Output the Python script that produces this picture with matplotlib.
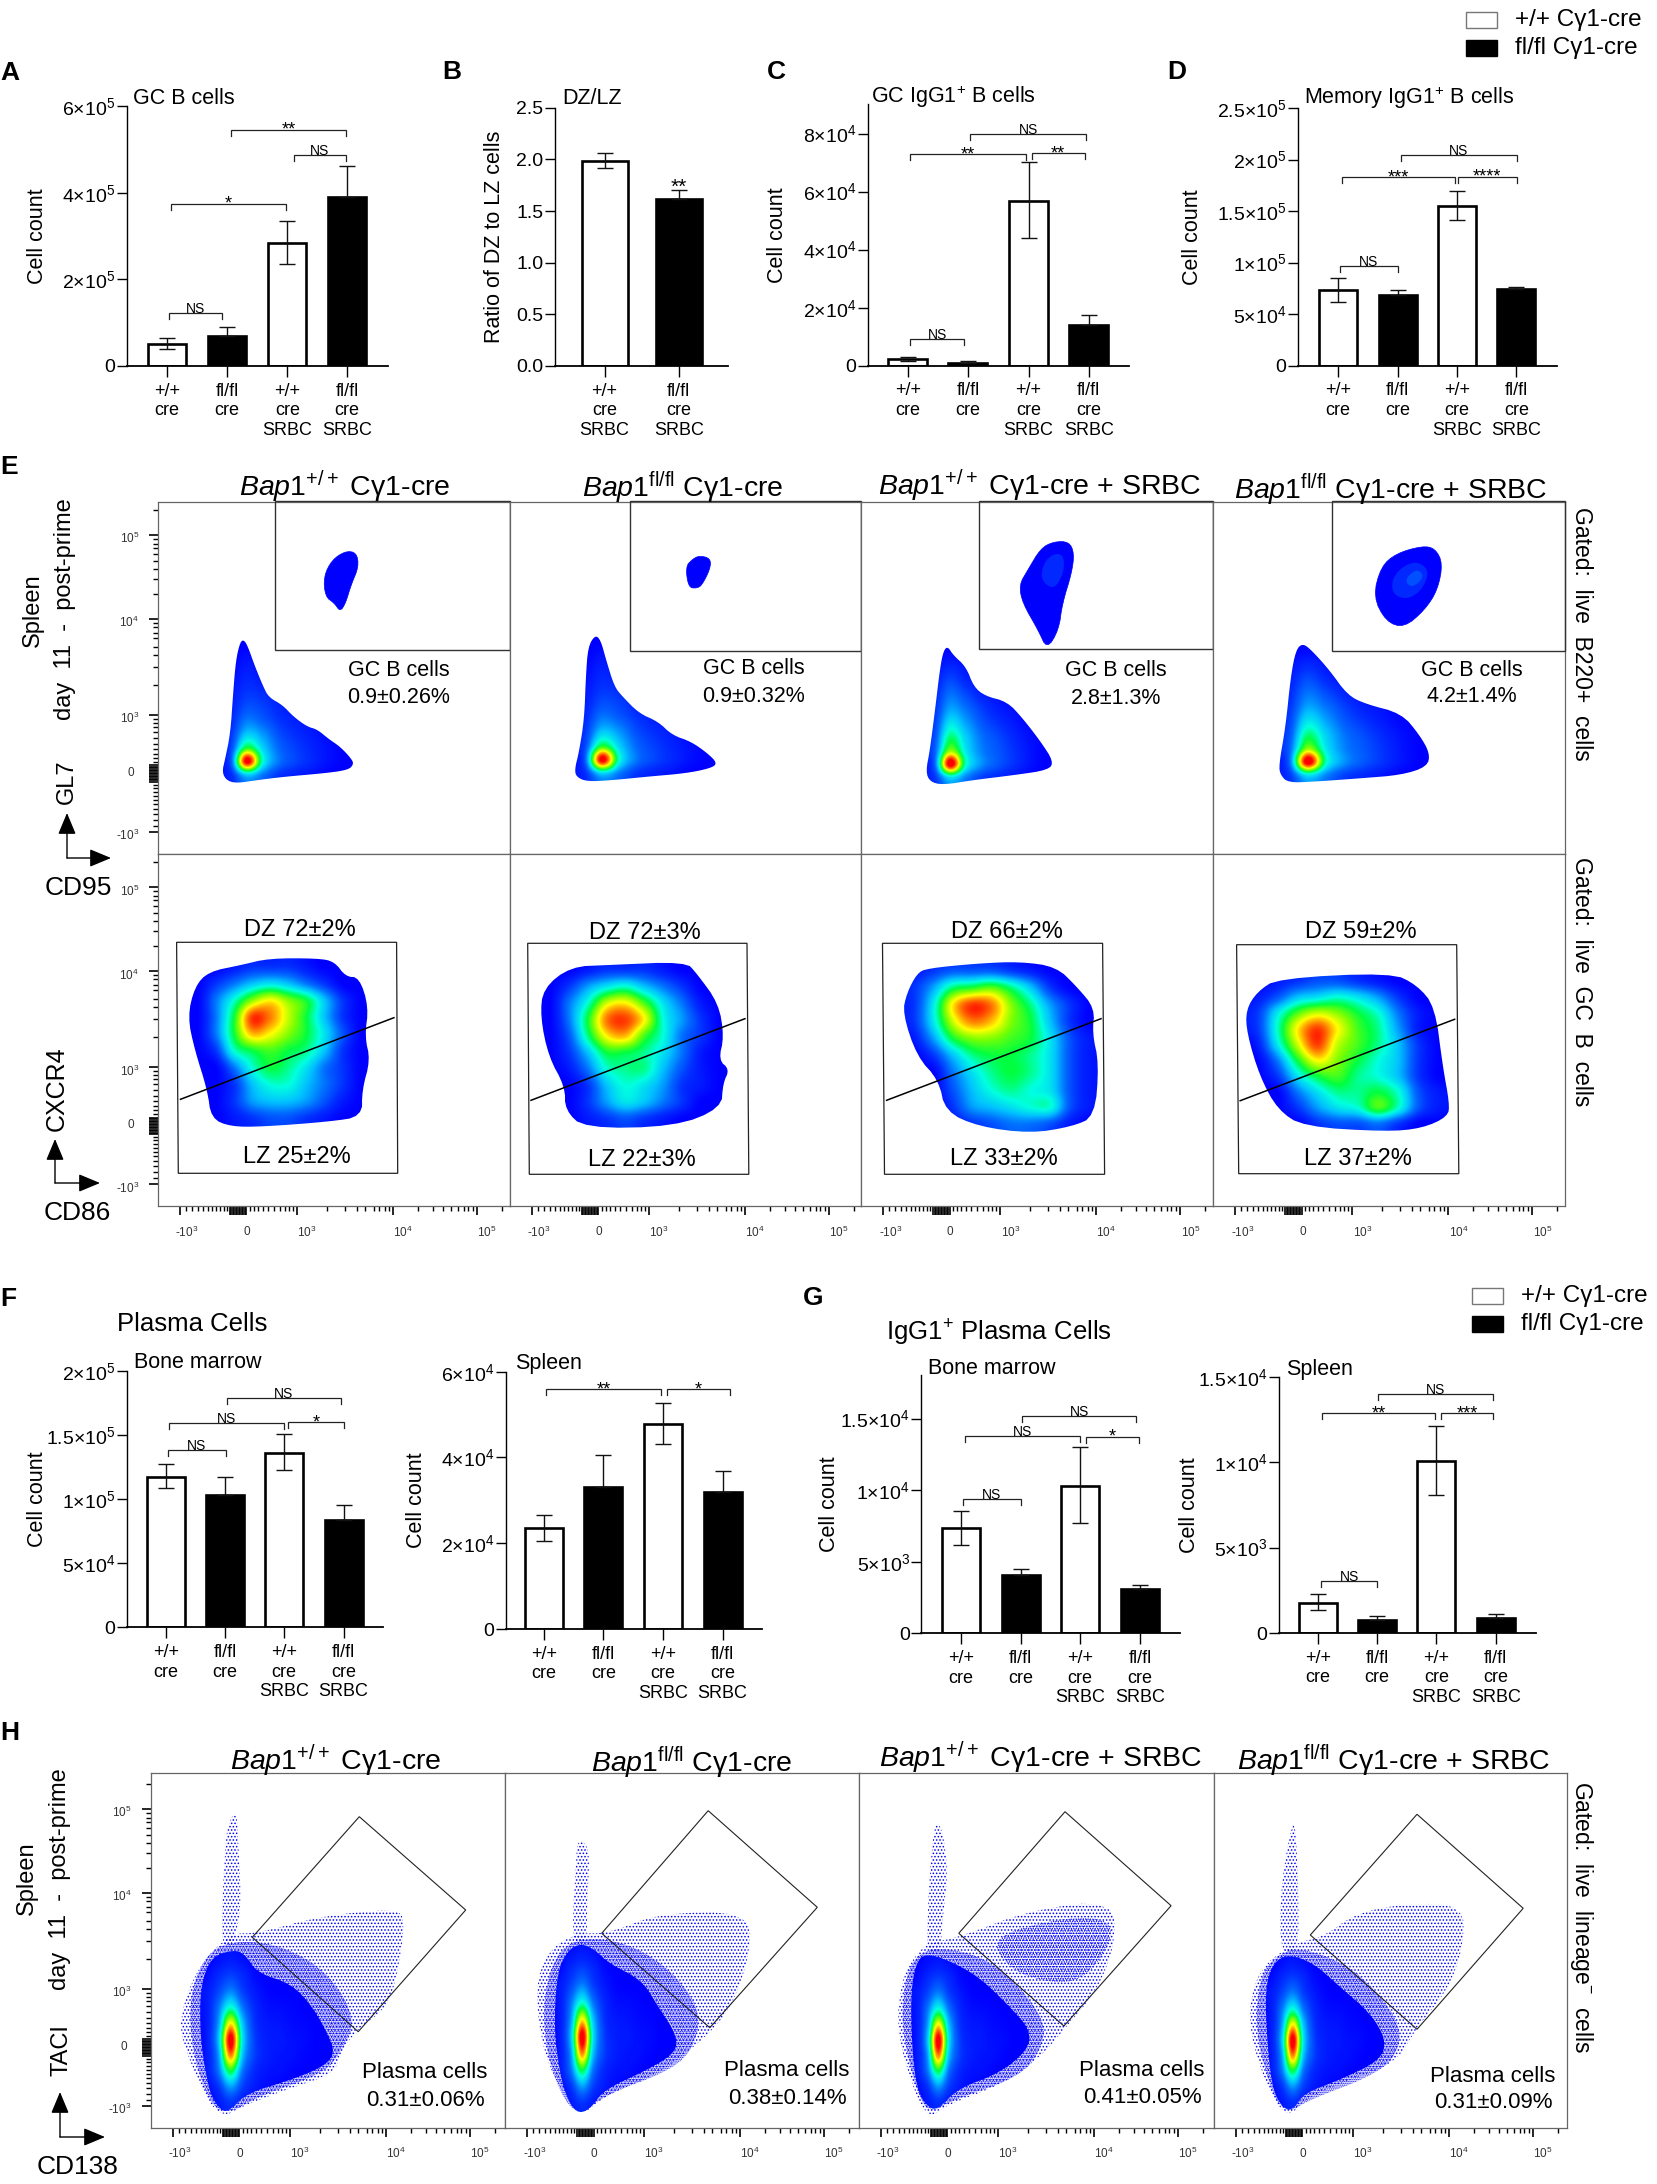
#!/usr/bin/env python3

import matplotlib
matplotlib.use('Agg')
import matplotlib.pyplot as plt
from matplotlib.colors import LinearSegmentedColormap
from matplotlib.patches import Polygon, Rectangle

plt.rcParams['font.family'] = ['Liberation Sans', 'DejaVu Sans']
plt.rcParams['mathtext.fontset'] = 'custom'
plt.rcParams['mathtext.rm'] = 'Liberation Sans'
plt.rcParams['mathtext.it'] = 'Liberation Sans:italic'
plt.rcParams['mathtext.bf'] = 'Liberation Sans:bold'
plt.rcParams['mathtext.default'] = 'regular'
plt.rcParams['hatch.linewidth'] = 0.7

W, H = 1658, 2184

# ---- bar data
X4 = ['+/+\ncre', 'fl/fl\ncre', '+/+\ncre\nSRBC', 'fl/fl\ncre\nSRBC']
X2 = ['+/+\ncre\nSRBC', 'fl/fl\ncre\nSRBC']

A_MEAN = [5.08e4, 7.0e4, 2.85e5, 3.91e5]
A_UP = [6.4e4, 9.1e4, 3.35e5, 4.62e5]
A_LOW = [3.9e4, 7.0e4, 2.35e5, 3.91e5]
A_TICKS = [0, 2e5, 4e5, 6e5]
A_LABELS = ['0', '2×10$^{5}$', '4×10$^{5}$', '6×10$^{5}$']
A_BRACKETS = [(0.04, 0.92, 1.23e5, 'NS'), (0.06, 1.98, 3.75e5, '*'),
              (2.11, 2.99, 4.87e5, 'NS'), (1.07, 2.99, 5.45e5, '**')]

B_MEAN = [1.987, 1.616]
B_UP = [2.065, 1.70]
B_LOW = [1.92, 1.616]
B_TICKS = [0, 0.5, 1, 1.5, 2, 2.5]
B_LABELS = ['0.0', '0.5', '1.0', '1.5', '2.0', '2.5']

C_MEAN = [2.2e3, 1.0e3, 5.68e4, 1.39e4]
C_UP = [3.0e3, 1.7e3, 7.02e4, 1.74e4]
C_LOW = [1.5e3, 1.0e3, 4.39e4, 1.39e4]
C_TICKS = [0, 2e4, 4e4, 6e4, 8e4]
C_LABELS = ['0', '2×10$^{4}$', '4×10$^{4}$', '6×10$^{4}$', '8×10$^{4}$']
C_BRACKETS = [(0.04, 0.93, 9.2e3, 'NS'), (0.04, 1.97, 7.28e4, '**'),
              (2.06, 2.95, 7.32e4, '**'), (1.04, 2.96, 8.0e4, 'NS')]

D_MEAN = [7.32e4, 6.9e4, 1.548e5, 7.42e4]
D_UP = [8.55e4, 7.35e4, 1.694e5, 7.68e4]
D_LOW = [6.2e4, 6.9e4, 1.415e5, 7.42e4]
D_TICKS = [0, 5e4, 1e5, 1.5e5, 2e5, 2.5e5]
D_LABELS = ['0', '5×10$^{4}$', '1×10$^{5}$', '1.5×10$^{5}$', '2×10$^{5}$', '2.5×10$^{5}$']
D_BRACKETS = [(0.04, 1.0, 9.65e4, 'NS'), (0.06, 1.96, 1.826e5, '***'),
              (2.01, 3.0, 1.833e5, '****'), (1.05, 3.0, 2.043e5, 'NS')]

F1_MEAN = [1.171e5, 1.034e5, 1.361e5, 8.39e4]
F1_UP = [1.273e5, 1.174e5, 1.509e5, 9.53e4]
F1_LOW = [1.083e5, 1.034e5, 1.223e5, 8.39e4]
F1_TICKS = [0, 5e4, 1e5, 1.5e5, 2e5]
F1_LABELS = ['0', '5×10$^{4}$', '1×10$^{5}$', '1.5×10$^{5}$', '2×10$^{5}$']
F1_BRACKETS = [(0.04, 1.01, 1.382e5, 'NS'), (0.05, 2.0, 1.595e5, 'NS'),
               (2.07, 3.02, 1.60e5, '*'), (1.04, 2.96, 1.787e5, 'NS')]

F2_MEAN = [2.347e4, 3.30e4, 4.79e4, 3.19e4]
F2_UP = [2.65e4, 4.05e4, 5.27e4, 3.68e4]
F2_LOW = [2.06e4, 3.30e4, 4.32e4, 3.19e4]
F2_TICKS = [0, 2e4, 4e4, 6e4]
F2_LABELS = ['0', '2×10$^{4}$', '4×10$^{4}$', '6×10$^{4}$']
F2_BRACKETS = [(0.04, 1.96, 5.59e4, '**'), (2.07, 3.13, 5.59e4, '*')]

G1_MEAN = [7.36e3, 4.08e3, 1.027e4, 3.12e3]
G1_UP = [8.57e3, 4.52e3, 1.30e4, 3.35e3]
G1_LOW = [6.2e3, 4.08e3, 7.69e3, 3.12e3]
G1_TICKS = [0, 5e3, 1e4, 1.5e4]
G1_LABELS = ['0', '5×10$^{3}$', '1×10$^{4}$', '1.5×10$^{4}$']
G1_BRACKETS = [(0.03, 1.0, 9.41e3, 'NS'), (0.07, 1.99, 1.379e4, 'NS'),
               (2.10, 2.98, 1.374e4, '*'), (1.02, 2.94, 1.521e4, 'NS')]

G2_MEAN = [1.77e3, 780, 1.007e4, 896]
G2_UP = [2.28e3, 993, 1.214e4, 1.09e3]
G2_LOW = [1.32e3, 780, 8.08e3, 896]
G2_TICKS = [0, 5e3, 1e4, 1.5e4]
G2_LABELS = ['0', '5×10$^{3}$', '1×10$^{4}$', '1.5×10$^{4}$']
G2_BRACKETS = [(0.06, 1.0, 3.02e3, 'NS'), (0.07, 1.98, 1.286e4, '**'),
               (2.08, 2.96, 1.286e4, '***'), (1.01, 2.96, 1.399e4, 'NS')]

COL_TITLES = [r'$\mathit{Bap1}^{+/+}$ Cγ1-cre', r'$\mathit{Bap1}^{fl/fl}$ Cγ1-cre',
              r'$\mathit{Bap1}^{+/+}$ Cγ1-cre + SRBC', r'$\mathit{Bap1}^{fl/fl}$ Cγ1-cre + SRBC']
GC_VALUES = ['0.9±0.26%', '0.9±0.32%', '2.8±1.3%', '4.2±1.4%']
DZ_VALUES = ['DZ 72±2%', 'DZ 72±3%', 'DZ 66±2%', 'DZ 59±2%']
LZ_VALUES = ['LZ 25±2%', 'LZ 22±3%', 'LZ 33±2%', 'LZ 37±2%']
PC_VALUES = ['0.31±0.06%', '0.38±0.14%', '0.41±0.05%', '0.31±0.09%']

CROP_E1_L = (0, 460, 1.823)
CROP_E1_R = (850, 460, 1.94)
CROP_E2_L = (0, 860, 1.823)
CROP_E2_R = (850, 860, 1.94)
CROP_H_L = (0, 1720, 1.823)
CROP_H_R = (850, 1730, 1.94)

TRI_1 = [(445, 540), (452, 560), (465, 620), (480, 680), (490, 712), (515, 735), (535, 770), (560, 800), (578, 808),
         (600, 838), (620, 860), (640, 895), (645, 912), (635, 930), (590, 940), (520, 950), (470, 960), (430, 970),
         (412, 960), (405, 935), (410, 900), (420, 820), (425, 700), (430, 600), (438, 545)]
TRI_2 = [(1085, 525), (1095, 540), (1105, 600), (1120, 680), (1135, 710), (1165, 760), (1200, 785), (1225, 825),
         (1260, 845), (1290, 880), (1308, 910), (1295, 925), (1250, 940), (1180, 950), (1120, 960), (1070, 965),
         (1050, 950), (1048, 925), (1055, 880), (1065, 780), (1068, 650), (1072, 560)]
TRI_3 = [(190, 560), (200, 585), (225, 620), (240, 680), (262, 708), (305, 725), (335, 775), (370, 845), (395, 905),
         (385, 930), (320, 945), (240, 960), (180, 975), (155, 965), (147, 935), (155, 870), (165, 750), (175, 620),
         (182, 570)]
TRI_4 = [(878, 550), (895, 570), (930, 630), (965, 705), (1000, 732), (1070, 760), (1105, 825), (1125, 880),
         (1120, 920), (1070, 945), (990, 955), (900, 965), (850, 968), (835, 945), (832, 915), (845, 800), (855, 650),
         (865, 570)]

TRI_PLAIN = [[0, 0, 0, 0, 0, 0, 0, 0],
             [0, 0.4, 0.2, 0, 0, 0, 0, 0],
             [0.2, 0.7, 0.4, 0.1, 0, 0, 0, 0],
             [0.4, 1, 0.8, 0.4, 0.1, 0, 0, 0],
             [0.6, 1.4, 1.2, 0.7, 0.3, 0.1, 0, 0],
             [0.8, 2, 1.6, 1, 0.6, 0.3, 0, 0],
             [1, 3, 2.4, 1.4, 0.9, 0.5, 0.1, 0],
             [1.2, 5, 3.2, 1.8, 1.2, 0.7, 0.3, 0],
             [1.4, 9.2, 4, 2, 1.3, 0.8, 0.3, 0],
             [0.8, 3, 2, 1, 0.6, 0.3, 0, 0]]
TRI_SRBC = [[0, 0.2, 0, 0, 0, 0, 0, 0],
            [0.3, 0.8, 0.4, 0, 0, 0, 0, 0],
            [0.6, 1.4, 0.8, 0.3, 0, 0, 0, 0],
            [0.8, 2, 1.4, 0.7, 0.3, 0, 0, 0],
            [1, 2.6, 2, 1.2, 0.6, 0.3, 0, 0],
            [1.2, 3.5, 2.6, 1.6, 1, 0.5, 0.1, 0],
            [1.4, 4.6, 3.2, 2, 1.4, 0.8, 0.3, 0],
            [1.6, 6, 3.6, 2.2, 1.6, 1, 0.4, 0],
            [1.6, 9.4, 4.2, 2.4, 1.6, 1, 0.4, 0],
            [1, 3.4, 2.2, 1.2, 0.8, 0.4, 0, 0]]

GC_1 = [(630, 273), (650, 278), (654, 320), (640, 375), (630, 430), (620, 455), (610, 430), (593, 410), (590, 350),
        (605, 300)]
GC_2 = [(1275, 287), (1295, 295), (1295, 325), (1280, 375), (1270, 385), (1255, 382), (1250, 320), (1262, 298)]
GC_3 = [(395, 245), (425, 245), (435, 280), (430, 340), (412, 430), (405, 510), (382, 568), (365, 510), (335, 430),
        (328, 375), (345, 330), (370, 265)]
GC_4 = [(1110, 258), (1135, 265), (1150, 310), (1140, 390), (1115, 450), (1075, 503), (1040, 485), (1015, 410),
        (1030, 320), (1060, 280)]
GC_3_INNER = [(395, 280), (415, 285), (415, 340), (395, 390), (370, 360), (375, 310)]
GC_4_INNER = [(1095, 300), (1125, 330), (1110, 390), (1080, 420), (1050, 400), (1055, 340)]
GC_4_CORE = [(1100, 325), (1115, 350), (1090, 385), (1075, 360)]

CX_1 = [(490, 295), (580, 295), (610, 305), (630, 350), (655, 352), (672, 440), (665, 530), (675, 600), (660, 690),
        (660, 770), (600, 785), (480, 800), (420, 800), (385, 775), (378, 690), (355, 570), (342, 470), (355, 380),
        (380, 335), (440, 315)]
CX_2 = [(1110, 315), (1250, 305), (1270, 340), (1310, 430), (1320, 530), (1310, 600), (1330, 628), (1318, 670),
        (1315, 745), (1230, 800), (1065, 805), (1030, 750), (1030, 680), (1000, 590), (985, 470), (990, 385),
        (1040, 320)]
CX_3 = [(150, 325), (250, 310), (330, 305), (400, 320), (440, 380), (475, 445), (470, 520), (483, 610), (475, 770),
        (430, 800), (350, 820), (250, 800), (185, 755), (172, 660), (130, 590), (102, 460), (110, 400), (130, 340)]
CX_4 = [(830, 355), (1050, 338), (1100, 375), (1135, 440), (1150, 620), (1163, 730), (1160, 770), (1110, 805),
        (1040, 815), (880, 800), (830, 750), (795, 650), (770, 520), (768, 450), (790, 395)]

CX_DENS_1 = [[0, 0, 0.5, 1, 1, 1, 0.5, 0, 0, 0],
             [0, 1, 2, 3, 3.5, 3, 2, 1, 0, 0],
             [0, 2, 4, 6, 7, 6, 5, 3, 1, 0],
             [0, 2, 5, 8.5, 8, 6.5, 5, 3, 1, 0],
             [0, 2, 5, 7.5, 7, 6, 5, 3.5, 1.5, 0],
             [0, 1, 4, 5, 5.5, 5, 4.5, 3, 1, 0],
             [0, 0, 2, 4, 5, 4.5, 3.5, 2, 1, 0],
             [0, 0, 1, 3, 4, 4, 3, 2, 1, 0],
             [0, 0, 1, 2.5, 3, 3, 2.5, 1.5, 0.5, 0],
             [0, 0, 0.5, 1, 1.5, 1.5, 1, 0.5, 0, 0]]
CX_DENS_2 = [[0, 0, 0.5, 1, 1, 1, 0.5, 0, 0, 0],
             [0, 1, 2.5, 3.5, 4, 3, 2, 1, 0, 0],
             [0, 2, 4, 6.5, 7, 5.5, 3.5, 2, 0.5, 0],
             [0, 2, 5, 8, 8.5, 7, 4, 2.5, 1, 0],
             [0, 1.5, 4.5, 7, 7.5, 5.5, 4, 2, 1, 0],
             [0, 1, 3, 5, 5, 4.5, 3.5, 2, 0.5, 0],
             [0, 0.5, 2, 4, 4.5, 4.5, 3, 1.5, 0.5, 0],
             [0, 0, 1, 3, 4, 3.5, 2.5, 1, 0.5, 0],
             [0, 0, 1, 2.5, 3.5, 3, 2, 1, 0, 0],
             [0, 0, 0.5, 1, 1.5, 1, 0.5, 0, 0, 0]]
CX_DENS_3 = [[0.5, 1, 1.5, 1.5, 1.5, 1, 0.5, 0, 0, 0],
             [1, 2.5, 4.5, 5, 5.5, 4.5, 3, 1, 0, 0],
             [1, 3.5, 7, 8.5, 8, 6, 4.5, 2.5, 1, 0],
             [1, 3.5, 6.5, 8, 7.5, 6, 5, 3, 1, 0],
             [0.5, 2.5, 5, 6, 6, 5.5, 5, 3.5, 1.5, 0.5],
             [0, 1, 3, 4.5, 5, 5, 4.5, 3.5, 1.5, 0.5],
             [0, 0, 2, 3.5, 4.5, 5, 4.5, 3.5, 1.5, 0.5],
             [0, 0, 1.5, 3, 4, 4.5, 4, 3.5, 1.5, 0.5],
             [0, 0, 1, 2.5, 3, 3.5, 4, 4, 1.5, 0.5],
             [0, 0, 0.5, 1, 1.5, 2, 2, 1.5, 0.5, 0]]
CX_DENS_4 = [[0, 0.5, 1, 1.5, 1.5, 1, 0.5, 0, 0, 0],
             [0.5, 1.5, 3, 3.5, 4, 3.5, 2.5, 1, 0, 0],
             [1, 3.5, 5.5, 6.5, 6, 5, 4, 2, 0.5, 0],
             [1, 4, 7, 8.5, 7, 5.5, 4.5, 2.5, 0.5, 0],
             [0.5, 3.5, 6.5, 8.5, 6.5, 5.5, 4.5, 3, 1, 0],
             [0, 2, 5, 7, 6, 5, 4, 3, 1, 0],
             [0, 1, 3.5, 5, 5.5, 4.5, 4, 3, 1, 0],
             [0, 0, 2, 3.5, 4.5, 4.5, 5, 4, 1.5, 0.5],
             [0, 0, 1, 2.5, 3.5, 4, 5.5, 4, 1.5, 0.5],
             [0, 0, 0, 1, 1.5, 1.5, 2, 1, 0, 0]]

PC_MAIN_1 = [(425, 690), (445, 700), (470, 760), (530, 790), (570, 860), (600, 950), (610, 1000), (590, 1040),
             (530, 1080), (450, 1120), (420, 1170), (405, 1175), (385, 1130), (375, 1060), (365, 950), (365, 800),
             (385, 710)]
PC_NEAR_1 = [(440, 660), (520, 680), (600, 760), (650, 900), (620, 1000), (590, 1060), (470, 1130), (420, 1180),
             (385, 1160), (350, 1000), (345, 820), (380, 690)]
PC_CLOUD_1 = [(420, 640), (470, 640), (580, 590), (720, 565), (740, 600), (720, 800), (700, 870), (650, 930),
              (620, 1000), (610, 1060), (520, 1110), (440, 1160), (410, 1190), (380, 1150), (340, 1000), (325, 900),
              (360, 740)]
PC_PLUME_1 = [(415, 310), (432, 270), (435, 400), (440, 560), (425, 680), (405, 680), (405, 560), (410, 400)]
PC_MAIN_2 = [(1060, 670), (1085, 690), (1110, 730), (1170, 780), (1200, 860), (1235, 950), (1230, 1000), (1180, 1050),
             (1100, 1110), (1075, 1170), (1050, 1180), (1030, 1120), (1020, 1050), (1010, 930), (1015, 760),
             (1035, 690)]
PC_NEAR_2 = [(1080, 650), (1160, 680), (1230, 760), (1280, 880), (1260, 1000), (1210, 1060), (1110, 1120), (1060, 1180),
             (1030, 1150), (995, 1000), (990, 820), (1020, 680)]
PC_CLOUD_2 = [(1050, 640), (1110, 640), (1200, 580), (1360, 575), (1370, 680), (1340, 840), (1300, 930), (1250, 1000),
              (1200, 1060), (1100, 1130), (1060, 1190), (1030, 1130), (990, 1000), (975, 800), (1000, 690)]
PC_PLUME_2 = [(1052, 365), (1065, 365), (1075, 400), (1070, 560), (1070, 670), (1045, 670), (1045, 560), (1050, 440)]
PC_MAIN_3 = [(150, 672), (190, 690), (250, 740), (310, 830), (350, 900), (345, 960), (290, 1030), (210, 1075),
             (170, 1140), (150, 1130), (130, 1080), (120, 950), (118, 780), (130, 690)]
PC_NEAR_3 = [(170, 650), (260, 680), (330, 770), (380, 880), (370, 960), (330, 1040), (200, 1110), (155, 1150),
             (130, 1090), (100, 900), (105, 760), (125, 680)]
PC_CLOUD_3 = [(150, 640), (215, 620), (350, 540), (510, 510), (515, 640), (480, 780), (420, 890), (370, 980),
              (300, 1060), (180, 1130), (155, 1165), (125, 1090), (90, 900), (100, 750), (125, 680)]
PC_DENSE_3 = [(270, 620), (420, 560), (510, 570), (500, 660), (450, 750), (390, 760), (310, 720)]
PC_PLUME_3 = [(165, 270), (180, 300), (190, 430), (180, 560), (175, 670), (150, 670), (150, 580), (155, 420)]
PC_MAIN_4 = [(850, 672), (900, 700), (950, 770), (1010, 850), (1040, 930), (1030, 990), (950, 1050), (880, 1090),
             (860, 1140), (840, 1135), (820, 1080), (810, 950), (805, 780), (820, 700)]
PC_NEAR_4 = [(870, 650), (960, 700), (1020, 780), (1070, 890), (1060, 980), (1010, 1040), (890, 1110), (850, 1150),
             (820, 1100), (785, 900), (795, 740), (825, 680)]
PC_CLOUD_4 = [(860, 640), (920, 620), (980, 550), (1080, 520), (1190, 525), (1190, 650), (1160, 780), (1100, 890),
              (1060, 1000), (950, 1060), (880, 1110), (850, 1165), (810, 1080), (770, 880), (790, 720)]
PC_PLUME_4 = [(860, 270), (865, 310), (870, 480), (870, 670), (835, 670), (835, 500), (845, 380)]

PC_DENS = [[0, 0.3, 0.5, 0.3, 0, 0, 0, 0, 0, 0, 0],
           [0.2, 0.8, 1.2, 0.8, 0.2, 0, 0, 0, 0, 0, 0],
           [0.5, 1.3, 2.2, 1.2, 0.5, 0.1, 0, 0, 0, 0, 0],
           [0.5, 2, 4, 2, 0.8, 0.3, 0.2, 0.1, 0, 0, 0],
           [0.5, 2.5, 7, 3, 1, 0.5, 0.4, 0.2, 0.1, 0, 0],
           [0.5, 3, 9.3, 3.5, 1.2, 0.6, 0.5, 0.3, 0.2, 0, 0],
           [0.5, 2.5, 8, 3, 1.2, 0.6, 0.4, 0.3, 0.1, 0, 0],
           [0.5, 2, 5, 2, 0.8, 0.4, 0.3, 0.1, 0, 0, 0],
           [0.2, 1, 2.5, 1.2, 0.5, 0.2, 0, 0, 0, 0, 0],
           [0, 0.5, 1, 0.5, 0.1, 0, 0, 0, 0, 0, 0]]

# axis tick places on the flow plots, px from the low end of the frame
FLOW_MAJOR = [22, 81, 139, 235, 319]
FLOW_DENSE = [72, 73.5, 75, 76.5, 78, 79.5, 82.5, 84, 85.5, 87, 88.5]
FLOW_MINOR = [28, 34, 40, 45, 50, 54, 58, 62, 66, 69, 92, 96, 100, 105, 110, 116, 122, 127, 131, 135,
              169, 187, 199, 207, 216, 221, 227, 231, 260, 275, 285, 293, 300, 306, 310, 315, 344]
FLOW_NAMES = ['-10$^{3}$', '0', '10$^{3}$', '10$^{4}$', '10$^{5}$']

DENS_CMAP = LinearSegmentedColormap.from_list(
    'flow', ['#0000ff', '#0030ff', '#0070ff', '#00c0ff', '#00ffe0', '#00ff40', '#80ff00', '#ffff00', '#ff8000',
             '#ff0000'])

fig = plt.figure(figsize=(W / 100, H / 100), dpi=100)


def px_axes(left, top, right, bottom, **kw):
    return fig.add_axes([left / W, 1 - bottom / H, (right - left) / W, (bottom - top) / H], **kw)


def crop(pts, where):
    x0, y0, sx = where
    return [(x0 + x / sx, y0 + y / 3) for x, y in pts]


def rounded(pts, rounds=2):
    # corner cutting, the outlines were read as few points
    for _ in range(rounds):
        out = []
        for i in range(len(pts)):
            a, b = pts[i], pts[(i + 1) % len(pts)]
            out.append((0.75 * a[0] + 0.25 * b[0], 0.75 * a[1] + 0.25 * b[1]))
            out.append((0.25 * a[0] + 0.75 * b[0], 0.25 * a[1] + 0.75 * b[1]))
        pts = out
    return pts


def bracket(ax, x0, x1, y, label, dv):
    ax.plot([x0, x0, x1, x1], [y - dv, y, y, y - dv], color='#222222', lw=0.9, solid_joinstyle='miter')
    if label == 'NS':
        ax.annotate(label, ((x0 + x1) / 2, y), xytext=(0, 0), textcoords='offset pixels', ha='center', va='baseline',
                    fontsize=10)
    else:
        ax.annotate(label, ((x0 + x1) / 2, y), xytext=(0, -5), textcoords='offset pixels', ha='center', va='baseline',
                    fontsize=13)


def bar_panel(yx, right, y0, ytop, centers, width, means, up, low, ymax, ticks, labels, xlabels, brackets=()):
    ax = px_axes(yx, ytop, right, y0)
    step = centers[1] - centers[0]
    xs = [(c - centers[0]) / step for c in centers]
    colors = ['white' if i % 2 == 0 else 'black' for i in range(len(means))]
    ax.bar(xs, means, width / step, color=colors, edgecolor='black', lw=1.9, zorder=2)
    yerr = [[m - l for m, l in zip(means, low)], [u - m for m, u in zip(means, up)]]
    ax.errorbar(xs, means, yerr=yerr, fmt='none', ecolor='#111111', elinewidth=1, capsize=6, capthick=1, zorder=3)
    ax.set_xlim((yx - centers[0]) / step, (right - centers[0]) / step)
    ax.set_ylim(0, ymax)
    ax.spines['top'].set_visible(False)
    ax.spines['right'].set_visible(False)
    ax.spines['left'].set_linewidth(1)
    ax.spines['bottom'].set_linewidth(1.3)
    ax.set_xticks(xs)
    ax.set_xticklabels(xlabels, fontsize=13, linespacing=1.2)
    ax.set_yticks(ticks)
    ax.set_yticklabels(labels, fontsize=14)
    ax.tick_params(axis='x', length=8, width=1, pad=4)
    ax.tick_params(axis='y', length=7.5, width=1, pad=1)
    ax.patch.set_alpha(0)
    dv = 6 / (y0 - ytop) * ymax
    for b in brackets:
        bracket(ax, b[0], b[1], b[2], b[3], dv)
    return ax


def flow_axes(left, top, right, bottom, yticks=False, xticks=True):
    ax = px_axes(left, top, right, bottom)
    ax.set_xlim(left, right)
    ax.set_ylim(bottom, top)
    for s in ax.spines.values():
        s.set_color('#666666')
        s.set_linewidth(0.9)
    ax.set_xticks([])
    ax.set_yticks([])
    if xticks:
        ax.set_xticks([left + t for t in FLOW_MAJOR + FLOW_DENSE])
        ax.set_xticks([left + t for t in FLOW_MINOR], minor=True)
        ax.set_xticklabels([])
        for t, name, dx in zip(FLOW_MAJOR, FLOW_NAMES, [7, 8, 10, 10, 10]):
            ax.text(left + t + dx, bottom + 26, name, ha='center', va='center', fontsize=8.5, color='#333333',
                    clip_on=False)
    if yticks:
        ax.set_yticks([bottom - t for t in FLOW_MAJOR + FLOW_DENSE])
        ax.set_yticks([bottom - t for t in FLOW_MINOR], minor=True)
        ax.set_yticklabels([])
        for t, name, dy, xoff in zip(FLOW_MAJOR, FLOW_NAMES, [4, 0, 4, 4, 4], [19, 24, 19, 19, 19]):
            ax.text(left - xoff, bottom - t + dy, name, ha='right', va='center', fontsize=8.5, color='#333333',
                    clip_on=False)
    ax.tick_params(which='major', length=6.5, width=1.2, color='black', pad=1)
    ax.tick_params(which='minor', length=3.5, width=1, color='black')
    return ax


def density(ax, outline, matrix, zorder=2):
    xs = [p[0] for p in outline]
    ys = [p[1] for p in outline]
    xlim, ylim = ax.get_xlim(), ax.get_ylim()
    im = ax.imshow(matrix, extent=(min(xs), max(xs), max(ys), min(ys)), cmap=DENS_CMAP, vmin=0, vmax=9,
                   interpolation='catrom', interpolation_stage='data', aspect='auto', zorder=zorder)
    patch = Polygon(rounded(outline), closed=True, transform=ax.transData)
    im.set_clip_path(patch)
    ax.set_xlim(xlim)
    ax.set_ylim(ylim)
    return im


def speckle(ax, outline, hatch, zorder=1):
    ax.add_patch(Polygon(rounded(outline), closed=True, fc='none', ec='#0000ff', lw=0, hatch=hatch, zorder=zorder))


# ---- bar panels
bar_panel(127, 388, 366, 106, [167, 227, 287.5, 347], 38, A_MEAN, A_UP, A_LOW, 6e5, A_TICKS, A_LABELS, X4, A_BRACKETS)
ax_b = bar_panel(555, 728, 366, 107.7, [604.6, 678.7], 46, B_MEAN, B_UP, B_LOW, 2.5, B_TICKS, B_LABELS, X2)
ax_b.annotate('**', (1, 1.72), xytext=(0, -5), textcoords='offset pixels', ha='center', va='baseline', fontsize=15)
bar_panel(868, 1129, 365.7, 104, [908, 968, 1028.5, 1088.7], 39, C_MEAN, C_UP, C_LOW, 9.02e4, C_TICKS, C_LABELS, X4,
          C_BRACKETS)
bar_panel(1298, 1556.5, 365.7, 108, [1338, 1397.6, 1456.7, 1516.4], 38, D_MEAN, D_UP, D_LOW, 2.5e5, D_TICKS, D_LABELS,
          X4, D_BRACKETS)
bar_panel(127, 383, 1627.3, 1370.7, [166, 225, 284, 343.6], 38, F1_MEAN, F1_UP, F1_LOW, 2e5, F1_TICKS, F1_LABELS, X4,
          F1_BRACKETS)
bar_panel(505.6, 762, 1629, 1371.7, [544, 603.5, 662.8, 722.6], 38, F2_MEAN, F2_UP, F2_LOW, 6e4, F2_TICKS, F2_LABELS,
          X4, F2_BRACKETS)
bar_panel(921.5, 1180, 1633.3, 1375, [961, 1020.6, 1080, 1140], 38, G1_MEAN, G1_UP, G1_LOW, 1.805e4, G1_TICKS,
          G1_LABELS, X4, G1_BRACKETS)
bar_panel(1279, 1535.6, 1633, 1376.7, [1317.8, 1377, 1436.5, 1495.7], 38, G2_MEAN, G2_UP, G2_LOW, 1.5e4, G2_TICKS,
          G2_LABELS, X4, G2_BRACKETS)

# ---- flow rows
E_EDGES = [158, 509.6, 861.3, 1213.4, 1565.5]
H_EDGES = [150.8, 505.2, 858.8, 1214, 1567.5]

# GL7 / CD95 row
gl7_outlines = [crop(TRI_1, CROP_E1_L), crop(TRI_2, CROP_E1_L), crop(TRI_3, CROP_E1_R), crop(TRI_4, CROP_E1_R)]
gl7_dens = [TRI_PLAIN, TRI_PLAIN, TRI_SRBC, TRI_SRBC]
gc_blobs = [crop(GC_1, CROP_E1_L), crop(GC_2, CROP_E1_L), crop(GC_3, CROP_E1_R), crop(GC_4, CROP_E1_R)]
gate_left = [275, 629.7, 978.9, 1332]
gate_low = [650, 650.7, 649, 650.7]
for i in range(4):
    ax = flow_axes(E_EDGES[i], 502, E_EDGES[i + 1], 853.7, yticks=(i == 0), xticks=False)
    density(ax, gl7_outlines[i], gl7_dens[i])
    ax.add_patch(Polygon(rounded(gc_blobs[i]), closed=True, fc='#0000ff', ec='#0000ff', lw=0.5, zorder=2))
    ax.add_patch(Rectangle((gate_left[i], 501), E_EDGES[i + 1] - gate_left[i], gate_low[i] - 501, fc='none',
                           ec='#333333', lw=1, clip_on=False, zorder=4))
    if i == 2:
        ax.add_patch(Polygon(rounded(crop(GC_3_INNER, CROP_E1_R)), closed=True, fc='#0028ff', ec='none', zorder=3))
    if i == 3:
        ax.add_patch(Polygon(rounded(crop(GC_4_INNER, CROP_E1_R)), closed=True, fc='#0028ff', ec='none', zorder=3))
        ax.add_patch(Polygon(rounded(crop(GC_4_CORE, CROP_E1_R)), closed=True, fc='#0050ff', ec='none', zorder=3))

# CXCR4 / CD86 row
cx_outlines = [crop(CX_1, CROP_E2_L), crop(CX_2, CROP_E2_L), crop(CX_3, CROP_E2_R), crop(CX_4, CROP_E2_R)]
cx_dens = [CX_DENS_1, CX_DENS_2, CX_DENS_3, CX_DENS_4]
cx_gates = [[(176.6, 942.3), (396.6, 942.3), (397.7, 1173.3), (178.3, 1173.3)],
            [(527.7, 943.3), (747, 943.3), (748.8, 1174.3), (529.3, 1174.3)],
            [(882.5, 943.3), (1102.6, 943.3), (1104.6, 1174.3), (884.5, 1174.3)],
            [(1236.6, 944.7), (1456.7, 944.7), (1458.8, 1173.7), (1238.7, 1173.7)]]
cx_lines = [[(180.5, 393.9), (1099.3, 1017.7)], [(531, 744.9), (1100.3, 1018.7)],
            [(886.6, 1101), (1100.3, 1018.7)], [(1240.2, 1454.6), (1100.7, 1019.3)]]
for i in range(4):
    ax = flow_axes(E_EDGES[i], 854, E_EDGES[i + 1], 1206, yticks=(i == 0))
    density(ax, cx_outlines[i], cx_dens[i])
    ax.add_patch(Polygon(cx_gates[i], closed=True, fc='none', ec='#222222', lw=0.9, zorder=4))
    ax.plot(cx_lines[i][0], cx_lines[i][1], color='black', lw=1.1, zorder=5)

# TACI / CD138 row
pc_gates = [[(359.3, 1816.7), (465.7, 1910), (358.2, 2031.7), (252.3, 1937.3)],
            [(708.2, 1810.7), (817.3, 1907.3), (709.8, 2027.7), (601.7, 1933.3)],
            [(1065, 1811.7), (1171.1, 1905.7), (1063.9, 2026), (958.8, 1933.3)],
            [(1417, 1814.3), (1523.2, 1908.3), (1417, 2029.3), (1310.3, 1935)]]
pc_main = [crop(PC_MAIN_1, CROP_H_L), crop(PC_MAIN_2, CROP_H_L), crop(PC_MAIN_3, CROP_H_R), crop(PC_MAIN_4, CROP_H_R)]
pc_near = [crop(PC_NEAR_1, CROP_H_L), crop(PC_NEAR_2, CROP_H_L), crop(PC_NEAR_3, CROP_H_R), crop(PC_NEAR_4, CROP_H_R)]
pc_cloud = [crop(PC_CLOUD_1, CROP_H_L), crop(PC_CLOUD_2, CROP_H_L), crop(PC_CLOUD_3, CROP_H_R),
            crop(PC_CLOUD_4, CROP_H_R)]
pc_plume = [crop(PC_PLUME_1, CROP_H_L), crop(PC_PLUME_2, CROP_H_L), crop(PC_PLUME_3, CROP_H_R),
            crop(PC_PLUME_4, CROP_H_R)]
for i in range(4):
    ax = flow_axes(H_EDGES[i], 1773, H_EDGES[i + 1], 2127.7, yticks=(i == 0))
    speckle(ax, pc_cloud[i], '.....')
    speckle(ax, pc_plume[i], '.....')
    speckle(ax, pc_near[i], '.........')
    if i == 2:
        speckle(ax, crop(PC_DENSE_3, CROP_H_R), '.......')
    density(ax, pc_main[i], PC_DENS)
    ax.add_patch(Polygon(pc_gates[i], closed=True, fc='none', ec='#222222', lw=0.8, zorder=4))

# ---- everything else goes on a sheet in picture pixels
ov = fig.add_axes([0, 0, 1, 1], zorder=10)
ov.set_xlim(0, W)
ov.set_ylim(H, 0)
ov.axis('off')


def put(x, y, s, size=15, ha='center', rot=0, **kw):
    ov.text(x, y, s, fontsize=size, ha=ha, va='center', rotation=rot, rotation_mode='anchor', **kw)


for x, y, s in [(0, 73, 'A'), (442, 72, 'B'), (767, 72, 'C'), (1167, 72, 'D'), (0, 467, 'E'), (0, 1299, 'F'),
                (803, 1298, 'G'), (0, 1733, 'H')]:
    put(x, y, s, size=19, ha='left', fontweight='bold')

# bar titles
for x, y, s in [(133, 99, 'GC B cells'), (562, 98, 'DZ/LZ'), (871, 97, 'GC IgG1$^{+}$ B cells'),
                (1304, 98, 'Memory IgG1$^{+}$ B cells'), (134, 1362, 'Bone marrow'), (514.6, 1364, 'Spleen'),
                (928, 1369, 'Bone marrow'), (1286, 1369, 'Spleen')]:
    put(x, y, s, size=15.5, ha='left')
put(117.5, 1324, 'Plasma Cells', size=18.5, ha='left')
put(886, 1333, 'IgG1$^{+}$ Plasma Cells', size=18.5, ha='left')

# bar y labels
for x, y in [(38, 236), (778, 235), (1193, 237), (38, 1499), (417, 1500), (830, 1504), (1190, 1505)]:
    put(x, y, 'Cell count', size=15.5, rot=90)
put(495, 237, 'Ratio of DZ to LZ cells', size=15.5, rot=90)

# legends
for y_white, y_black, x_box, x_text in [(12, 40, 1466, 1515), (1288, 1316, 1472, 1521)]:
    ov.add_patch(Rectangle((x_box, y_white), 31, 16, fc='white', ec='#777777', lw=1))
    ov.add_patch(Rectangle((x_box, y_black), 31, 16, fc='black', ec='black', lw=1))
    put(x_text, y_white + 8, '+/+ Cγ1-cre', size=17.5, ha='left')
    put(x_text, y_black + 8, 'fl/fl Cγ1-cre', size=17.5, ha='left')

# flow column titles
for x, y, s in zip([344.5, 683, 1039.7, 1391], [486.7, 488, 486, 490], COL_TITLES):
    put(x, y, s, size=20.5)
for x, y, s in zip([336, 692, 1040.7, 1394], [1760.7, 1763, 1758, 1760.7], COL_TITLES):
    put(x, y, s, size=20.5)

# gate labels
for x, y1, y2, s in zip([399, 754, 1116, 1472], [670, 669, 670.7, 670], [697.7, 696, 698, 697], GC_VALUES):
    put(x, y1, 'GC B cells', size=15.5)
    put(x, y2, s, size=15.5)
for x, y, s in zip([300, 644.5, 1007, 1361], [930, 933, 932, 932], DZ_VALUES):
    put(x, y, s, size=17)
for x, y, s in zip([297, 642, 1003.6, 1358], [1157, 1160, 1159, 1159], LZ_VALUES):
    put(x, y, s, size=17)
for x, y1, y2, s in zip([425, 787, 1142, 1493], [2072.7, 2070.7, 2070.7, 2076.7], [2100, 2098, 2097.7, 2103],
                        PC_VALUES):
    put(x, y1, 'Plasma cells', size=16)
    put(x, y2, s, size=16)

# side labels
put(1582, 634, 'Gated:  live  B220+  cells', size=16.5, rot=-90)
put(1582, 982, 'Gated:  live  GC  B  cells', size=16.5, rot=-90)
put(1582, 1917, 'Gated:  live  lineage$^{-}$  cells', size=16.5, rot=-90)
put(33, 610, 'Spleen', size=17, rot=90)
put(65, 609, 'day  11  -  post-prime', size=17, rot=90)
put(67, 782, 'GL7', size=17, rot=90)
put(56.5, 1089, 'CXCR4', size=18, rot=90)
put(27, 1878, 'Spleen', size=17, rot=90)
put(60, 1879, 'day  11  -  post-prime', size=17, rot=90)
put(62, 2050, 'TACI', size=17, rot=90)
put(78, 888, 'CD95', size=19)
put(77, 1213, 'CD86', size=19)
put(78, 2167, 'CD138', size=19)

# marker arrows
for cx, cy, tip_y, tip_x in [(67, 858, 813, 111), (55, 1183, 1139, 100), (60, 2137, 2092, 105)]:
    for xy in [(cx, tip_y), (tip_x, cy)]:
        ov.annotate('', xy=xy, xytext=(cx, cy),
                    arrowprops=dict(arrowstyle='-|>,head_length=1.2,head_width=0.5', mutation_scale=11, lw=1,
                                    color='black', shrinkA=0, shrinkB=0))

fig.savefig('out.png', dpi=100)
